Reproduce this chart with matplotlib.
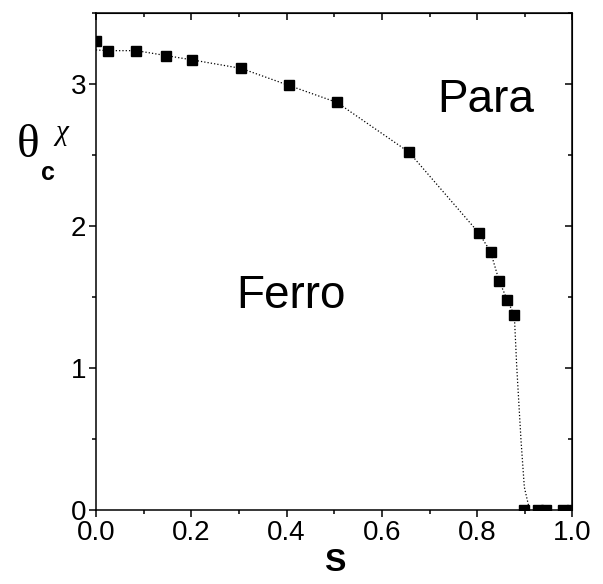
import matplotlib
matplotlib.use("Agg")
import matplotlib.pyplot as plt
from matplotlib.ticker import MultipleLocator

plt.rcParams['font.family'] = ['Liberation Sans', 'DejaVu Sans']

# measured points
s_vals = [0.0, 0.025, 0.085, 0.148, 0.202, 0.305, 0.405, 0.506, 0.657,
          0.803, 0.828, 0.846, 0.863, 0.878,
          0.899, 0.927, 0.945, 0.98, 1.0]
theta_vals = [3.30, 3.235, 3.235, 3.20, 3.17, 3.11, 2.99, 2.87, 2.52,
              1.953, 1.82, 1.615, 1.48, 1.37,
              0.0, 0.0, 0.0, 0.0, 0.0]

# dotted guide line
curve_s = [0.0, 0.025, 0.085, 0.148, 0.202, 0.305, 0.405, 0.506, 0.657,
           0.803, 0.828, 0.846, 0.863, 0.878, 0.883, 0.892, 0.899, 0.91]
curve_theta = [3.24, 3.235, 3.235, 3.20, 3.17, 3.11, 2.99, 2.87, 2.52,
               1.953, 1.82, 1.615, 1.48, 1.37, 1.01, 0.49, 0.16, 0.0]

fig = plt.figure(figsize=(6.03, 5.84), dpi=100)
ax = fig.add_axes([0.159, 0.1267, 0.7904, 0.851])

ax.plot(curve_s, curve_theta, color='black', linestyle=':', linewidth=0.9)
ax.plot(s_vals, theta_vals, linestyle='none', marker='s', markersize=7.2,
        color='black')

ax.set_xlim(0, 1.0)
ax.set_ylim(0, 3.5)
ax.xaxis.set_minor_locator(MultipleLocator(0.1))
ax.yaxis.set_minor_locator(MultipleLocator(0.5))
ax.set_xticks([0, 0.2, 0.4, 0.6, 0.8, 1.0])
ax.set_xticklabels(['0.0', '0.2', '0.4', '0.6', '0.8', '1.0'])
ax.set_yticks([0, 1, 2, 3])

ax.tick_params(which='both', direction='out', labelsize=20, width=1.1,
               top=False, right=False)
ax.tick_params(which='major', length=5, pad=2)
ax.tick_params(which='minor', length=3)
for sp in ax.spines.values():
    sp.set_linewidth(1.1)

# inward ticks on top and right
ax2 = ax.secondary_xaxis('top')
ax2.xaxis.set_major_locator(MultipleLocator(0.2))
ax2.xaxis.set_minor_locator(MultipleLocator(0.1))
ax2.tick_params(which='both', direction='in', labeltop=False, width=1.1)
ax2.tick_params(which='major', length=5)
ax2.tick_params(which='minor', length=3)
ay2 = ax.secondary_yaxis('right')
ay2.yaxis.set_major_locator(MultipleLocator(1))
ay2.yaxis.set_minor_locator(MultipleLocator(0.5))
ay2.tick_params(which='both', direction='in', labelright=False, width=1.1)
ay2.tick_params(which='major', length=5)
ay2.tick_params(which='minor', length=3)

ax.text(0.818, 2.89, 'Para', fontsize=33, ha='center', va='center')
ax.text(0.409, 1.505, 'Ferro', fontsize=33, ha='center', va='center')

fig.text(335 / 603, 1 - 563 / 584, 'S', fontsize=23, fontweight='bold',
         ha='center', va='center')
fig.text(28 / 603, 1 - 146 / 584, '\u03b8', fontsize=34,
         family=['Liberation Serif', 'DejaVu Serif'], ha='center', va='center')
fig.text(47.5 / 603, 1 - 173 / 584, 'c', fontsize=18, fontweight='bold',
         ha='center', va='center')
fig.text(61.5 / 603, 1 - 133 / 584, '\u03c7', fontsize=21, style='italic',
         family=['Liberation Serif', 'DejaVu Serif'], ha='center', va='center')

fig.savefig('out.png', dpi=100)
